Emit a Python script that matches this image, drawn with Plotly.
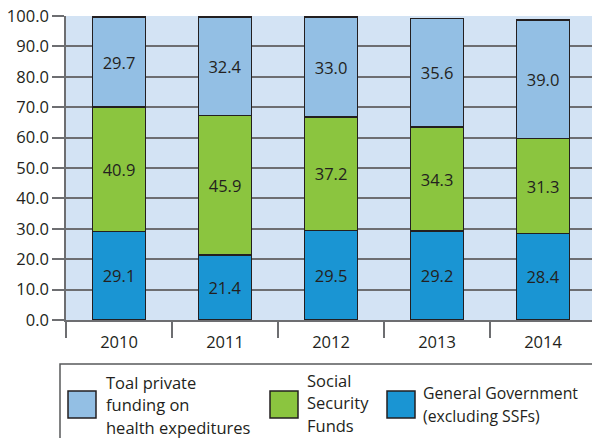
import plotly.graph_objects as go

years = ["2010", "2011", "2012", "2013", "2014"]
general_gov = [29.1, 21.4, 29.5, 29.2, 28.4]
social_security = [40.9, 45.9, 37.2, 34.3, 31.3]
private_funding = [29.7, 32.4, 33.0, 35.6, 39.0]

legend_labels = [
    ["Toal private", "funding on", "health expeditures"],
    ["Social", "Security", "Funds"],
    ["General Government", "(excluding SSFs)"],
]

C_PRIVATE = "#93bfe4"
C_SSF = "#8bc53f"
C_GOV = "#1a95d3"
C_BG = "#d3e3f4"
C_GRID = "#6d6e71"
C_EDGE = "#231f20"
FONT = "Open Sans"

W, H = 592, 438
L, R, T, B = 66, 0, 16, 118
PW, PH = W - L - R, H - T - B


def px_x(x):
    return (x - L) / PW


def px_y(y):
    return (H - B - y) / PH


fig = go.Figure()
for vals, col in [(general_gov, C_GOV), (social_security, C_SSF), (private_funding, C_PRIVATE)]:
    fig.add_trace(go.Bar(
        x=years, y=vals, marker_color=col,
        marker_line=dict(color=C_EDGE, width=1.5),
        text=[f"{v:.1f}" for v in vals], textposition="inside",
        insidetextanchor="middle", textangle=0,
        textfont=dict(size=16.5, color=C_EDGE, family=FONT),
        width=0.5, showlegend=False,
    ))

# legend drawn by hand so the squares can be large
shapes = [dict(type="rect", xref="paper", yref="paper",
               x0=px_x(60), x1=px_x(610), y0=px_y(364), y1=px_y(460),
               line=dict(color="#58595b", width=1.5), fillcolor="white", layer="above")]
annotations = []
items = [
    (C_PRIVATE, 68, 106, [382, 404.5, 427], legend_labels[0], 16.5),
    (C_SSF, 270, 307, [380, 402.5, 425], legend_labels[1], 16.5),
    (C_GOV, 387, 423, [393, 415.5], legend_labels[2], 15.8),
]
for col, sx, tx, ys, lines, fs in items:
    shapes.append(dict(type="rect", xref="paper", yref="paper",
                       x0=px_x(sx), x1=px_x(sx + 28), y0=px_y(391), y1=px_y(418),
                       fillcolor=col, line=dict(color=C_EDGE, width=1.5), layer="above"))
    for ly, line in zip(ys, lines):
        annotations.append(dict(x=px_x(tx), y=px_y(ly), xref="paper", yref="paper",
                                text=line, showarrow=False, xanchor="left", yanchor="middle",
                                align="left", xshift=-2,
                                font=dict(size=fs, color=C_EDGE, family=FONT)))

fig.update_layout(
    barmode="stack",
    width=W, height=H,
    margin=dict(l=L, r=R, t=T, b=B, autoexpand=False),
    paper_bgcolor="white", plot_bgcolor=C_BG,
    font=dict(family=FONT, size=16.5, color=C_EDGE),
    shapes=shapes, annotations=annotations,
    xaxis=dict(range=[-0.5, 4.462], tickson="boundaries", ticks="outside", ticklen=16,
               tickcolor=C_GRID, tickwidth=1.5, showgrid=False, showline=True,
               linecolor=C_GRID, linewidth=1.5, ticklabelstandoff=6, automargin=False,
               tickfont=dict(size=16.5)),
    yaxis=dict(range=[0, 100], dtick=10, tickformat=".1f", ticks="outside", ticklen=12,
               tickcolor=C_GRID, tickwidth=1.5, gridcolor=C_GRID, gridwidth=1.5,
               showline=True, linecolor=C_GRID, linewidth=1.5, zeroline=False,
               automargin=False, tickfont=dict(size=16.5)),
)

# drop the page's default body margin so the figure sits at the window's corner
fig.write_html("out.html", config={"displayModeBar": False},
               post_script="document.body.style.margin='0';")
